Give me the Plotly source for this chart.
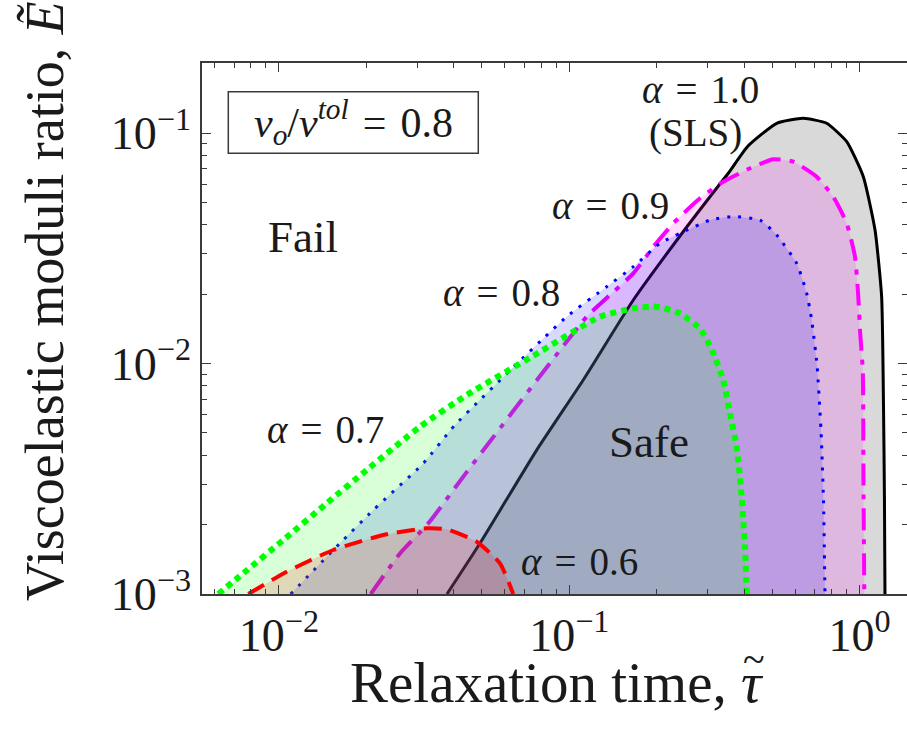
import plotly.graph_objects as go

# ---------------- data ----------------
# alpha = 1.0 (SLS)
tau_a10 = [0.0379, 0.04925, 0.0772, 0.1117, 0.1662, 0.2538, 0.3052, 0.3529, 0.4127,
           0.5181, 0.6399, 0.7701, 0.9029, 1.030, 1.130, 1.191, 1.209, 1.218, 1.223]
E_a10 = [0.001, 0.00166, 0.00421, 0.00848, 0.01886, 0.0391, 0.0529, 0.0669, 0.0878,
         0.1102, 0.1158, 0.1102, 0.0917, 0.0646, 0.0380, 0.0195, 0.00648, 0.002557, 0.001]

# alpha = 0.9
tau_a09 = [0.0207, 0.02611, 0.03268, 0.04431, 0.1148, 0.1345, 0.1662, 0.1948, 0.2282,
           0.2819, 0.3392, 0.4194, 0.5043, 0.5909, 0.7115, 0.8117, 0.9029, 0.9643,
           0.9897, 1.0032, 1.0257, 1.031, 1.038]
E_a09 = [0.001, 0.0015, 0.002026, 0.00338, 0.01596, 0.01924, 0.0246, 0.0321, 0.0406,
         0.0521, 0.0615, 0.0703, 0.0769, 0.0751, 0.0646, 0.0529, 0.0406, 0.02905,
         0.0195, 0.01397, 0.00928, 0.003125, 0.001]

# alpha = 0.8
tau_a08 = [0.01097, 0.01622, 0.02113, 0.03142, 0.0404, 0.098, 0.1345, 0.1662, 0.2053,
           0.2405, 0.3052, 0.3671, 0.4538, 0.5181, 0.6072, 0.6574, 0.6839, 0.7134,
           0.7362, 0.751, 0.7599]
E_a08 = [0.001, 0.00166, 0.002314, 0.00369, 0.00541, 0.01596, 0.02154, 0.0263, 0.0332,
         0.0367, 0.0419, 0.0434, 0.0419, 0.0361, 0.0272, 0.02016, 0.01544, 0.00985,
         0.00515, 0.002557, 0.001]

# alpha = 0.7
tau_a07 = [0.00618, 0.00753, 0.01035, 0.0146, 0.02005, 0.0306, 0.04431, 0.075, 0.1276,
           0.1662, 0.200, 0.2405, 0.2819, 0.3101, 0.3392, 0.3577, 0.3773, 0.3925,
           0.403, 0.4085]
E_a07 = [0.001, 0.00123, 0.001715, 0.002474, 0.00345, 0.00532, 0.0073, 0.01078, 0.01596,
         0.01736, 0.01764, 0.01651, 0.01421, 0.01145, 0.00848, 0.00608, 0.00436,
         0.002643, 0.001604, 0.001]

# alpha = 0.6
tau_a06 = [0.00784, 0.01063, 0.01538, 0.02288, 0.03228, 0.03782, 0.04797, 0.05772, 0.06414]
E_a06 = [0.001, 0.00125, 0.001552, 0.001803, 0.001928, 0.001909, 0.001686, 0.001359, 0.001]

x_major = [0.01, 0.1, 1]
x_major_text = ["10<sup>\u22122</sup>", "10<sup>\u22121</sup>", "10<sup>0</sup>"]
y_major = [0.001, 0.01, 0.1]
y_major_text = ["10<sup>\u22123</sup>", "10<sup>\u22122</sup>", "10<sup>\u22121</sup>"]
x_minor = [0.006, 0.007, 0.008, 0.009] + [k / 100 for k in range(2, 10)] + \
          [k / 10 for k in range(2, 10)]
y_minor = [k / 1000 for k in range(2, 10)] + [k / 100 for k in range(2, 10)]

X_RANGE = [-2.2652, 0.1633]
Y_RANGE = [-3.0, -0.6963]

FONT = "Liberation Serif"
TXT = "#1a1a1a"
AX = "#3a3a3a"

series = [
    (tau_a10, E_a10, "black", "rgba(0,0,0,0.15)", 3, "solid"),
    (tau_a09, E_a09, "#ff00ff", "rgba(255,0,255,0.15)", 4, "22px,9px,5px,9px"),
    (tau_a08, E_a08, "#0000ff", "rgba(0,0,255,0.15)", 3, "3px,8px"),
    (tau_a07, E_a07, "#00ff00", "rgba(0,255,0,0.15)", 6, "6px,5px"),
    (tau_a06, E_a06, "#ff0000", "rgba(255,0,0,0.15)", 4, "18px,9px"),
]

fig = go.Figure()
for tx, ey, lc, fc, lw, dash in series:
    fig.add_trace(go.Scatter(
        x=tx, y=ey, mode="lines", fill="toself", fillcolor=fc,
        line=dict(color=lc, width=lw, dash=dash, shape="spline", smoothing=0.5),
        hoverinfo="skip", showlegend=False))

# invisible trace to carry the mirrored right-hand y axis (ticks only)
fig.add_trace(go.Scatter(x=[], y=[], yaxis="y2", showlegend=False))

tickfont = dict(family=FONT, size=46, color=TXT)
fig.update_layout(
    width=907, height=729,
    margin=dict(l=202, r=0, t=63, b=135),
    paper_bgcolor="white", plot_bgcolor="white",
    showlegend=False,
    xaxis=dict(type="log", range=X_RANGE, tickvals=x_major, ticktext=x_major_text,
               ticks="inside", ticklen=9, tickwidth=1.3, tickcolor=AX,
               showline=True, linecolor=AX, linewidth=1.5, mirror="ticks",
               showgrid=False, zeroline=False, tickfont=tickfont,
               minor=dict(tickvals=x_minor, ticks="inside", ticklen=5,
                          tickwidth=1.1, tickcolor=AX, showgrid=False)),
    yaxis=dict(type="log", range=Y_RANGE, tickvals=y_major, ticktext=y_major_text,
               ticks="inside", ticklen=9, tickwidth=1.3, tickcolor=AX,
               showline=True, linecolor=AX, linewidth=1.5, mirror=False,
               showgrid=False, zeroline=False, tickfont=tickfont,
               minor=dict(tickvals=y_minor, ticks="inside", ticklen=5,
                          tickwidth=1.1, tickcolor=AX, showgrid=False)),
    yaxis2=dict(type="log", range=Y_RANGE, overlaying="y", side="right",
                tickvals=y_major, ticks="inside", ticklen=9, tickwidth=1.3,
                tickcolor=AX, showline=False, showticklabels=False,
                showgrid=False, zeroline=False,
                minor=dict(tickvals=y_minor, ticks="inside", ticklen=5,
                           tickwidth=1.1, tickcolor=AX, showgrid=False)),
)

def label(text, x, y, size=39, angle=0, xanchor="center"):
    fig.add_annotation(text=text, x=x, y=y, xref="paper", yref="paper",
                       showarrow=False, xanchor=xanchor, yanchor="middle",
                       textangle=angle, font=dict(family=FONT, size=size, color=TXT))

sp = "\u2004"
label(f"<i>\u03b1</i>{sp}={sp}1.0", 0.7078, 0.9492)
label("(SLS)", 0.7007, 0.8682)
label(f"<i>\u03b1</i>{sp}={sp}0.9", 0.5801, 0.7307)
label(f"<i>\u03b1</i>{sp}={sp}0.8", 0.4255, 0.5669)
label(f"<i>\u03b1</i>{sp}={sp}0.7", 0.1745, 0.3089)
label(f"<i>\u03b1</i>{sp}={sp}0.6", 0.5348, 0.0603)
label("Fail", 0.1433, 0.6723, size=45)
label("Safe", 0.6340, 0.2863, size=45)

# v_o / v^tol box
fig.add_shape(type="rect", xref="paper", yref="paper", x0=0.0373, x1=0.3919,
              y0=0.8299, y1=0.9460, line=dict(color=AX, width=1.5),
              fillcolor="white", layer="above")
label(f"<i>v</i><sub><i>o</i></sub>/<i>v</i><sup><i>tol</i></sup>{sp}={sp}0.8",
      0.2156, 0.8889, size=42)

# axis titles (x title right-aligned so the tilde can sit over the tau)
label("Relaxation time, <i>\u03c4</i>", 0.8000, -0.1676, size=57, xanchor="right")
label("~", 0.7830, -0.1240, size=40)
label("Viscoelastic moduli ratio, <i>\u1ebc</i>", -0.2227, 0.5518, size=54, angle=-90)

fig.write_html("out.html")
